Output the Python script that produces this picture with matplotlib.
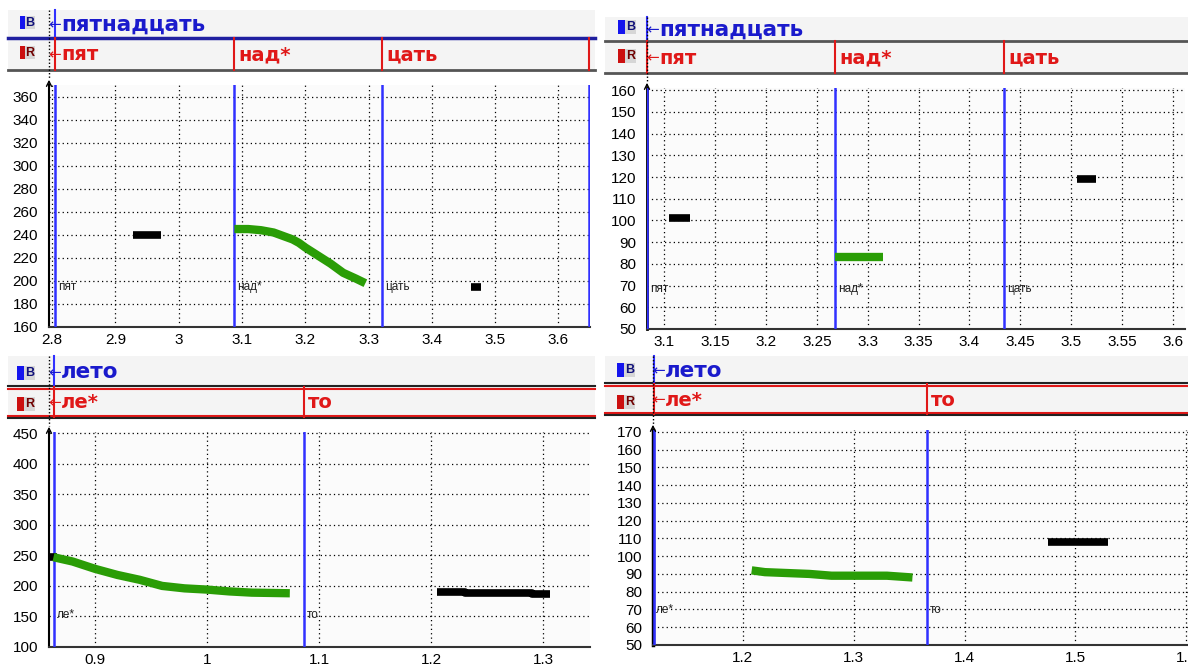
import matplotlib
matplotlib.use("Agg")
import matplotlib.pyplot as plt
from matplotlib.lines import Line2D
from matplotlib.patches import Rectangle, FancyArrowPatch
from matplotlib.transforms import Affine2D, blended_transform_factory

plt.rcParams['font.family'] = ['Liberation Sans', 'DejaVu Sans']

W, H = 1188, 666

# --- "пятнадцать", first recording (pitch, Hz) ---
a_word = "пятнадцать"
a_parts = ["пят", "над*", "цать"]
a_bounds = [2.805, 3.088, 3.322, 3.648]
a_xticks = [2.8, 2.9, 3.0, 3.1, 3.2, 3.3, 3.4, 3.5, 3.6]
a_yticks = [160, 180, 200, 220, 240, 260, 280, 300, 320, 340, 360]
a_black1_x = [2.927, 2.972]
a_black1_y = [240, 240]
a_green_x = [3.088, 3.11, 3.13, 3.15, 3.165, 3.18, 3.19, 3.2, 3.22, 3.24, 3.26, 3.28, 3.295]
a_green_y = [245, 245, 244, 242, 239, 236, 233, 229, 222, 215, 207, 202, 198]
a_black2_x = [3.462, 3.478]
a_black2_y = [195, 195]

# --- "пятнадцать", second recording (intensity, dB) ---
b_word = "пятнадцать"
b_parts = ["пят", "над*", "цать"]
b_bounds = [3.083, 3.268, 3.434]
b_xticks = [3.1, 3.15, 3.2, 3.25, 3.3, 3.35, 3.4, 3.45, 3.5, 3.55, 3.6]
b_yticks = [50, 60, 70, 80, 90, 100, 110, 120, 130, 140, 150, 160]
b_black1_x = [3.105, 3.125]
b_black1_y = [101, 101]
b_green_x = [3.268, 3.315]
b_green_y = [83, 83]
b_black2_x = [3.506, 3.524]
b_black2_y = [119, 119]

# --- "лето", pitch ---
c_word = "лето"
c_parts = ["ле*", "то"]
c_bounds = [0.8634, 1.0866]
c_xticks = [0.9, 1.0, 1.1, 1.2, 1.3]
c_yticks = [100, 150, 200, 250, 300, 350, 400, 450]
c_black1_x = [0.859, 0.866]
c_black1_y = [248, 248]
c_green_x = [0.863, 0.88, 0.9, 0.92, 0.94, 0.96, 0.98, 1.0, 1.02, 1.04, 1.074]
c_green_y = [247, 240, 228, 218, 210, 200, 196, 194, 191, 189, 188]
c_black2_x = [1.205, 1.23, 1.29, 1.306]
c_black2_y = [190, 188, 186, 186]

# --- "лето", intensity ---
d_word = "лето"
d_parts = ["ле*", "то"]
d_bounds = [1.1195, 1.366]
d_xticks = [1.2, 1.3, 1.4, 1.5, 1.6]
d_yticks = [50, 60, 70, 80, 90, 100, 110, 120, 130, 140, 150, 160, 170]
d_black1_x = []
d_black1_y = []
d_green_x = [1.208, 1.22, 1.24, 1.26, 1.28, 1.30, 1.33, 1.353]
d_green_y = [92, 91, 90.5, 90, 89, 89, 89, 88]
d_black2_x = [1.475, 1.529]
d_black2_y = [108, 108]

GREEN = '#2a9d06'
BLUE = '#3030ff'
RED = '#e01818'
HEAD_FONT = ['DejaVu Sans']

fig = plt.figure(figsize=(W / 100, H / 100), dpi=100, facecolor='white')
# pixel coordinates, origin top-left
pix = Affine2D().scale(1 / W, -1 / H).translate(0, 1) + fig.transFigure


def panel(box, head, xlim, ylim, xticks, yticks, bounds, parts, word,
          black1, green, black2, label_y, lines_style, spine_lw, icons):
    l, t, r, b = box
    ax = fig.add_axes([l / W, 1 - b / H, (r - l) / W, (b - t) / H])
    ax.set_facecolor('#fbfbfb')
    ax.set_xlim(*xlim)
    ax.set_ylim(*ylim)
    ax.set_xticks(xticks)
    ax.set_xticklabels([f"{v:g}" for v in xticks])
    ax.set_yticks(yticks)
    ax.grid(True, color='black', linestyle=(0, (1, 2.5)), linewidth=0.9)
    ax.tick_params(length=0, labelsize=11)
    ax.tick_params(axis='y', pad=8)
    ax.tick_params(axis='x', pad=4)
    for s in ['top', 'right']:
        ax.spines[s].set_visible(False)
    ax.spines['left'].set_linewidth(spine_lw)
    ax.spines['bottom'].set_linewidth(1.5)
    ax.spines['bottom'].set_color('#333333')

    for x in bounds:
        ax.axvline(x, color=BLUE, lw=1.8, zorder=3)

    ax.plot(black1[0], black1[1], color='black', lw=5.5, solid_capstyle='butt', zorder=4)
    ax.plot(green[0], green[1], color=GREEN, lw=6, solid_capstyle='butt', zorder=4)
    ax.plot(black2[0], black2[1], color='black', lw=5.5, solid_capstyle='butt',
            drawstyle='steps-post', zorder=4)

    for x, p in zip(bounds, parts):
        ax.annotate(p, (x, label_y), xytext=(2, 0), textcoords='offset points',
                    fontsize=8.5, va='center', ha='left', color='#222222', zorder=5)

    # header: word tier (B) and syllable tier (R)
    hl, ht, hr, hmid, hb = head
    fig.add_artist(Rectangle((hl, ht), hr - hl, hb - ht, transform=pix,
                             facecolor='#f4f4f4', edgecolor='none', zorder=0))
    if lines_style == 'plain':
        fig.add_artist(Line2D([hl, hr], [hmid, hmid], transform=pix, color='#2020a0', lw=2.5))
        fig.add_artist(Line2D([hl, hr], [hb, hb], transform=pix, color='#555555', lw=2))
    elif lines_style == 'gray':
        fig.add_artist(Line2D([hl, hr], [hmid, hmid], transform=pix, color='#555555', lw=2))
        fig.add_artist(Line2D([hl, hr], [hb, hb], transform=pix, color='#555555', lw=2))
    else:
        fig.add_artist(Line2D([hl, hr], [hmid - 1, hmid - 1], transform=pix, color='#222222', lw=1.5))
        fig.add_artist(Line2D([hl, hr], [hmid + 1.5, hmid + 1.5], transform=pix, color=RED, lw=1.5))
        fig.add_artist(Line2D([hl, hr], [hb - 1.5, hb - 1.5], transform=pix, color=RED, lw=1.5))
        fig.add_artist(Line2D([hl, hr], [hb + 1, hb + 1], transform=pix, color='#222222', lw=1.5))

    bt = blended_transform_factory(ax.transData, pix)
    fig.add_artist(Line2D([bounds[0], bounds[0]], [ht, hmid], transform=bt, color=BLUE, lw=1.5))
    for x in bounds:
        if xlim[0] <= x <= xlim[1]:
            fig.add_artist(Line2D([x, x], [hmid, hb], transform=bt, color=RED, lw=1.5))

    yb = (ht + hmid) / 2 + 1
    yr = (hmid + hb) / 2 + 1
    fig.text(l - 1, yb, "←", transform=pix, color='#1a1acc', fontsize=11,
             family=HEAD_FONT, va='center', ha='left')
    fig.text(l + 12, yb, word, transform=pix, color='#1a1acc', fontsize=15.5,
             family=HEAD_FONT, fontweight='bold', va='center', ha='left')
    fig.text(l - 1, yr, "←", transform=pix, color=RED, fontsize=11,
             family=HEAD_FONT, va='center', ha='left')
    fig.text(l + 12, yr, parts[0], transform=pix, color=RED, fontsize=14,
             family=HEAD_FONT, fontweight='bold', va='center', ha='left')
    for x, p in zip(bounds[1:], parts[1:]):
        ax.annotate(p, (x, yr), xycoords=bt, xytext=(3, 0), textcoords='offset points',
                    color=RED, fontsize=14, family=HEAD_FONT, fontweight='bold',
                    va='center', ha='left', annotation_clip=False)

    # tier icons
    ix, bw, lw_, iyb, iyr, ih = icons
    fig.add_artist(Rectangle((ix, iyb), bw, ih, transform=pix, facecolor='#1515ee', edgecolor='none'))
    fig.add_artist(Rectangle((ix + bw, iyb), lw_, ih, transform=pix, facecolor='#d6d6d6', edgecolor='none'))
    fig.text(ix + bw + lw_ / 2, iyb + ih / 2, "B", transform=pix, color='#10107a', fontsize=9,
             fontweight='bold', ha='center', va='center')
    fig.add_artist(Rectangle((ix, iyr), bw, ih, transform=pix, facecolor='#cc1010', edgecolor='none'))
    fig.add_artist(Rectangle((ix + bw, iyr), lw_, ih, transform=pix, facecolor='#d6d6d6', edgecolor='none'))
    fig.text(ix + bw + lw_ / 2, iyr + ih / 2, "R", transform=pix, color='#700000', fontsize=9,
             fontweight='bold', ha='center', va='center')

    # cursor line with arrow into the plot
    fig.add_artist(Line2D([l, l], [ht, t - 6], transform=pix, color='black', lw=1,
                          linestyle=(0, (1, 1.5))))
    fig.add_artist(FancyArrowPatch((l, t + 2), (l, t - 8), transform=pix,
                                   arrowstyle='->', mutation_scale=9, color='black', lw=1))
    return ax


panel((49, 85, 590, 327), (8, 10, 595, 38, 70), (2.795, 3.65), (160, 370),
      a_xticks, a_yticks, a_bounds, a_parts, a_word,
      (a_black1_x, a_black1_y), (a_green_x, a_green_y), (a_black2_x, a_black2_y),
      195, 'plain', 1.5, (20, 5, 10, 16, 46, 13))

panel((647, 88, 1185, 329), (605, 17, 1188, 41, 73), (3.083, 3.612), (50, 161),
      b_xticks, b_yticks, b_bounds, b_parts, b_word,
      (b_black1_x, b_black1_y), (b_green_x, b_green_y), (b_black2_x, b_black2_y),
      68.5, 'gray', 2, (618, 7, 11, 20, 49, 14))

panel((49, 432, 590, 647), (8, 356, 595, 387, 417), (0.859, 1.342), (100, 452),
      c_xticks, c_yticks, c_bounds, c_parts, c_word,
      (c_black1_x, c_black1_y), (c_green_x, c_green_y), (c_black2_x, c_black2_y),
      152, 'double', 1.5, (17, 7, 11, 366, 397, 14))

panel((653, 430, 1188, 645), (605, 356, 1188, 384, 414), (1.119, 1.6015), (50, 171),
      d_xticks, d_yticks, d_bounds, d_parts, d_word,
      (d_black1_x, d_black1_y), (d_green_x, d_green_y), (d_black2_x, d_black2_y),
      69.5, 'double', 2.5, (617, 7, 11, 363, 395, 14))

fig.savefig("out.png", dpi=100, facecolor='white')
